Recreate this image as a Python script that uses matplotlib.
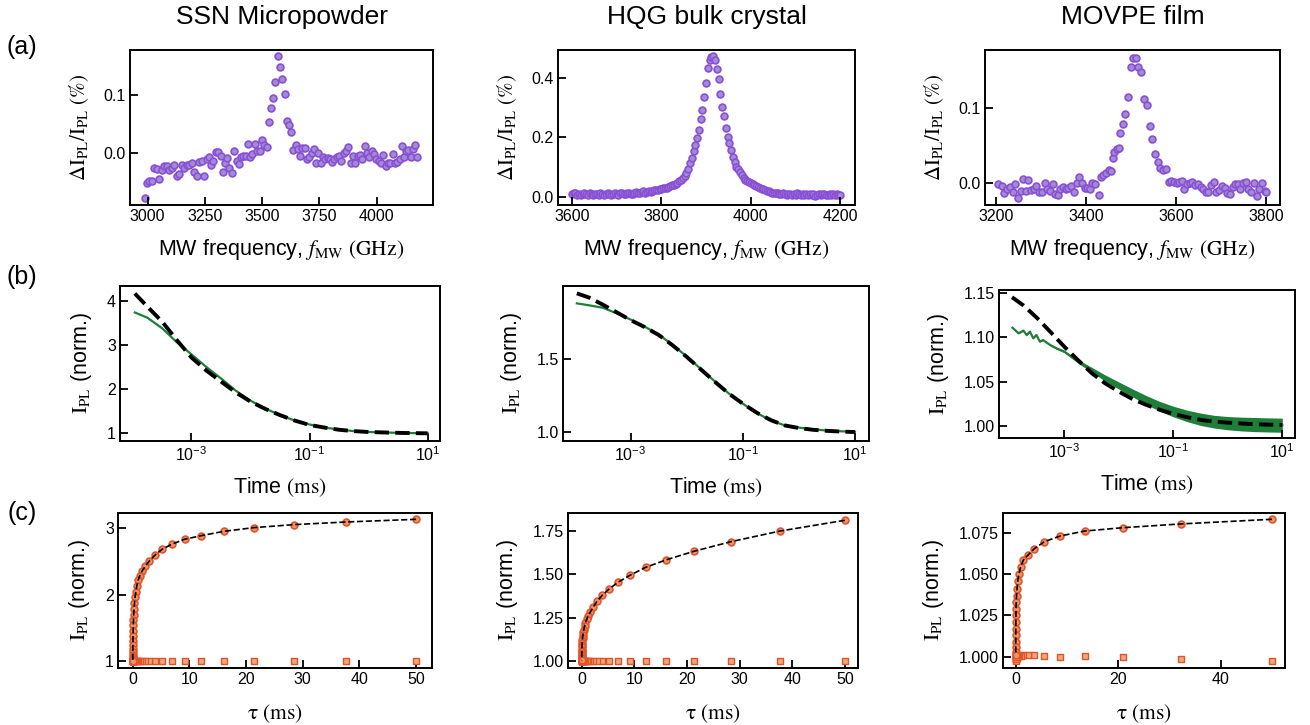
import numpy as np
import matplotlib
matplotlib.use('Agg')
import matplotlib.pyplot as plt

plt.rcParams['font.family'] = ['Liberation Sans', 'DejaVu Sans']
plt.rcParams['mathtext.fontset'] = 'stix'

W, H = 1310, 725

titles = ['SSN Micropowder', 'HQG bulk crystal', 'MOVPE film']

# (a) ODMR spectra
ssn_freq = [2988, 2996, 3006, 3017, 3028, 3039, 3051, 3061, 3073, 3083,
            3095, 3105, 3116, 3127, 3137, 3148, 3160, 3170, 3180, 3192,
            3204, 3214, 3226, 3236, 3247, 3258, 3268, 3277, 3287, 3298,
            3309, 3319, 3327, 3338, 3348, 3357, 3367, 3377, 3389, 3399,
            3408, 3418, 3428, 3438, 3447, 3457, 3469, 3479, 3489, 3499,
            3508, 3520, 3528, 3539, 3549, 3557, 3568, 3578, 3588, 3598,
            3607, 3617, 3627, 3636, 3646, 3656, 3665, 3675, 3686, 3696,
            3706, 3716, 3726, 3735, 3745, 3755, 3766, 3776, 3786, 3796,
            3806, 3815, 3825, 3835, 3846, 3856, 3866, 3876, 3886, 3897,
            3907, 3917, 3927, 3937, 3948, 3958, 3968, 3978, 3988, 3999,
            4009, 4019, 4029, 4039, 4049, 4060, 4070, 4080, 4090, 4100,
            4111, 4119, 4128, 4138, 4148, 4157, 4166, 4175]
ssn_odmr = [-0.078, -0.051, -0.049, -0.048, -0.026, -0.027, -0.045, -0.030, -0.023, -0.022,
            -0.029, -0.026, -0.021, -0.039, -0.037, -0.021, -0.026, -0.021, -0.020, -0.018,
            -0.033, -0.039, -0.016, -0.014, -0.039, -0.010, -0.006, -0.020, -0.013, 0.002,
            0.001, -0.005, -0.033, -0.017, -0.009, -0.026, -0.034, 0.003, -0.014, -0.019,
            -0.006, -0.005, -0.005, 0.016, -0.006, -0.001, 0.016, 0.003, 0.003, 0.023,
            0.014, 0.011, 0.053, 0.078, 0.095, 0.122, 0.167, 0.149, 0.128, 0.102,
            0.056, 0.049, 0.036, 0.006, 0.014, 0.007, -0.005, 0.009, 0.009, -0.010,
            -0.006, 0.000, 0.007, -0.018, 0.000, -0.018, -0.006, -0.011, -0.009, -0.010,
            -0.016, -0.010, -0.006, -0.005, -0.014, 0.000, 0.003, 0.011, -0.017, -0.005,
            -0.017, -0.005, -0.003, -0.010, 0.013, 0.000, -0.006, 0.003, -0.001, -0.010,
            -0.013, -0.017, -0.003, -0.022, -0.018, -0.017, -0.001, -0.017, -0.016, -0.011,
            0.013, -0.006, 0.003, 0.006, -0.007, 0.007, 0.014, -0.006]

hqg_start, hqg_step = 3600, 4
hqg_odmr = [0.008, 0.011, 0.012, 0.007, 0.009, 0.005, 0.010, 0.013, 0.008, 0.006,
            0.011, 0.009, 0.004, 0.008, 0.010, 0.007, 0.012, 0.009, 0.005, 0.009,
            0.011, 0.008, 0.006, 0.010, 0.012, 0.008, 0.007, 0.011, 0.013, 0.009,
            0.008, 0.012, 0.014, 0.010, 0.009, 0.013, 0.016, 0.012, 0.011, 0.015,
            0.018, 0.014, 0.016, 0.020, 0.017, 0.019, 0.023, 0.021, 0.022, 0.026,
            0.025, 0.028, 0.030, 0.029, 0.033, 0.035, 0.038, 0.040, 0.043, 0.047,
            0.051, 0.056, 0.063, 0.071, 0.081, 0.094, 0.112, 0.130, 0.155, 0.172,
            0.196, 0.225, 0.262, 0.290, 0.335, 0.382, 0.432, 0.460, 0.470, 0.472,
            0.458, 0.428, 0.395, 0.345, 0.300, 0.270, 0.230, 0.202, 0.180, 0.157,
            0.135, 0.115, 0.100, 0.094, 0.082, 0.073, 0.062, 0.056, 0.052, 0.048,
            0.045, 0.041, 0.038, 0.035, 0.032, 0.029, 0.027, 0.025, 0.021, 0.020,
            0.018, 0.016, 0.013, 0.014, 0.011, 0.012, 0.009, 0.008, 0.011, 0.009,
            0.006, 0.008, 0.010, 0.007, 0.009, 0.005, 0.012, 0.008, 0.006, 0.010,
            0.007, 0.009, 0.004, 0.008, 0.006, 0.010, 0.003, 0.007, 0.009, 0.005,
            0.008, 0.010, 0.004, 0.007, 0.009, 0.005, 0.008, 0.006, 0.009, 0.004, 0.007]
hqg_freq = hqg_start + hqg_step * np.arange(len(hqg_odmr))

movpe_freq = [3205, 3213, 3218, 3225, 3231, 3237, 3243, 3249, 3255, 3261,
              3267, 3272, 3278, 3284, 3290, 3296, 3302, 3308, 3314, 3320,
              3326, 3332, 3337, 3343, 3349, 3355, 3361, 3367, 3373, 3379,
              3385, 3391, 3397, 3402, 3408, 3414, 3420, 3428, 3433, 3438,
              3444, 3450, 3455, 3459, 3463, 3468, 3472, 3476, 3482, 3487,
              3493, 3499, 3504, 3510, 3516, 3521, 3528, 3535, 3541, 3547,
              3553, 3559, 3565, 3571, 3577, 3583, 3589, 3595, 3601, 3606,
              3612, 3618, 3624, 3630, 3636, 3642, 3648, 3654, 3660, 3666,
              3671, 3677, 3683, 3689, 3695, 3701, 3707, 3713, 3719, 3725,
              3731, 3737, 3742, 3748, 3754, 3760, 3766, 3772, 3778, 3784,
              3790, 3796, 3800]
movpe_odmr = [-0.001, -0.003, -0.013, -0.007, -0.005, -0.012, -0.001, -0.020, -0.010, 0.006,
              -0.010, 0.004, -0.009, -0.008, -0.003, -0.011, -0.011, 0.001, -0.008, -0.010,
              -0.001, -0.014, -0.016, -0.008, -0.005, -0.007, -0.006, -0.004, -0.012, 0.000,
              0.008, 0.000, -0.006, -0.006, -0.007, 0.000, -0.001, -0.015, 0.008, 0.011,
              0.014, 0.017, 0.016, 0.033, 0.041, 0.045, 0.046, 0.067, 0.078, 0.091,
              0.114, 0.153, 0.165, 0.166, 0.153, 0.147, 0.111, 0.104, 0.076, 0.059,
              0.039, 0.028, 0.020, 0.017, 0.019, 0.002, 0.003, 0.002, 0.000, 0.002,
              0.003, -0.007, -0.001, 0.001, 0.002, -0.002, -0.001, -0.005, -0.007, -0.011,
              -0.012, -0.002, 0.002, -0.012, -0.009, -0.004, -0.006, -0.013, -0.014, -0.005,
              -0.001, -0.001, -0.007, 0.001, 0.002, -0.007, -0.012, 0.000, -0.017, -0.007,
              0.000, -0.010, -0.012]

# (b) PL decay (time in ms)
t_ms = [1.1e-4, 1.8e-4, 3.2e-4, 5.6e-4, 1e-3, 1.8e-3, 3.2e-3, 5.6e-3, 0.01, 0.018, 0.032,
        0.056, 0.1, 0.18, 0.32, 0.56, 1.0, 1.8, 3.2, 5.6, 10.0]
ssn_decay = [3.74, 3.62, 3.38, 3.07, 2.79, 2.50, 2.24, 1.97, 1.74, 1.56, 1.41,
             1.29, 1.20, 1.13, 1.085, 1.05, 1.03, 1.02, 1.01, 1.005, 1.0]
ssn_decay_fit = [4.17, 3.87, 3.53, 3.12, 2.72, 2.42, 2.17, 1.93, 1.72, 1.55, 1.41,
                 1.29, 1.19, 1.13, 1.08, 1.05, 1.03, 1.02, 1.01, 1.005, 1.0]
hqg_decay = [1.875, 1.862, 1.845, 1.808, 1.765, 1.716, 1.662, 1.593, 1.514, 1.428, 1.343,
             1.263, 1.193, 1.128, 1.078, 1.045, 1.030, 1.018, 1.010, 1.005, 1.002]
hqg_decay_fit = [1.943, 1.915, 1.866, 1.815, 1.761, 1.713, 1.659, 1.590, 1.511, 1.425, 1.341,
                 1.262, 1.193, 1.130, 1.080, 1.045, 1.027, 1.015, 1.008, 1.003, 1.0]
movpe_decay_fit = [1.1455, 1.136, 1.1217, 1.106, 1.0895, 1.074, 1.0594, 1.048, 1.0386, 1.030, 1.0235,
                   1.018, 1.0133, 1.0095, 1.0065, 1.0045, 1.0034, 1.0024, 1.0016, 1.0011, 1.0008]
t_movpe = [1.12e-4, 1.45e-4, 1.78e-4, 2.04e-4, 2.34e-4, 2.69e-4, 3.09e-4, 3.55e-4, 4.07e-4,
           5.5e-4, 7.2e-4, 1e-3, 1.8e-3, 3.2e-3, 5.6e-3, 0.01, 0.018, 0.032, 0.056, 0.1,
           0.18, 0.32, 0.56, 1.0, 1.8, 3.2, 5.6, 10.0]
movpe_decay = [1.111, 1.1046, 1.1077, 1.1027, 1.1065, 1.099, 1.1027, 1.0952, 1.097,
               1.0914, 1.0876, 1.0839, 1.0726, 1.0632, 1.054, 1.0455, 1.037, 1.029, 1.022, 1.0160,
               1.0110, 1.0072, 1.0045, 1.0028, 1.0018, 1.0012, 1.0008, 1.0005]
movpe_noise = [0.0005, 0.0005, 0.0005, 0.0005, 0.0005, 0.0005, 0.0005, 0.0006, 0.0006,
               0.0008, 0.001, 0.0012, 0.002, 0.0028, 0.0035, 0.004, 0.0045, 0.005, 0.0055, 0.006,
               0.0065, 0.007, 0.0072, 0.0075, 0.0078, 0.008, 0.008, 0.008]

# (c) pulse-delay recovery
tau_a = [50, 37.66, 28.37, 21.37, 16.10, 12.13, 9.14, 6.88, 5.18, 3.90, 2.94, 2.22, 1.67,
         1.26, 0.948, 0.714, 0.538, 0.405, 0.305, 0.230, 0.173, 0.130, 0.098, 0.074, 0.056,
         0.042, 0.032, 0.024, 0.018, 0.0135, 0.0102, 0.0077, 0.0058, 0.0044]
ssn_rec = [3.135, 3.095, 3.055, 3.01, 2.955, 2.89, 2.835, 2.76, 2.685, 2.595, 2.51, 2.43, 2.36,
           2.29, 2.22, 2.13, 2.04, 1.96, 1.87, 1.79, 1.70, 1.62, 1.54, 1.46, 1.38,
           1.31, 1.25, 1.19, 1.14, 1.10, 1.07, 1.04, 1.02, 1.01]
ssn_ref = [1.0] * 34
hqg_rec = [1.81, 1.748, 1.687, 1.632, 1.583, 1.539, 1.493, 1.453, 1.414, 1.378, 1.345, 1.312, 1.284,
           1.262, 1.24, 1.22, 1.20, 1.18, 1.165, 1.15, 1.135, 1.12, 1.105, 1.09, 1.078,
           1.066, 1.055, 1.045, 1.036, 1.028, 1.02, 1.013, 1.008, 1.004]
hqg_ref = [1.0] * 34
tau_b = [50, 32.3, 20.85, 13.46, 8.69, 5.61, 3.62, 2.34, 1.51, 0.975, 0.63, 0.406, 0.262,
         0.169, 0.109, 0.0705, 0.0455, 0.0294, 0.019, 0.0123, 0.0079, 0.0051, 0.0033, 0.0021]
movpe_rec = [1.0831, 1.0803, 1.078, 1.076, 1.073, 1.0696, 1.0653, 1.0613, 1.0585, 1.0545, 1.050,
             1.046, 1.041, 1.037, 1.033, 1.029, 1.025, 1.021, 1.017, 1.013, 1.009, 1.006, 1.003, 1.001]
movpe_ref = [0.9974, 0.9984, 0.9996, 1.0004, 1.0, 1.0006, 1.0008, 1.0008, 1.0008, 1.0006, 1.0004,
             1.0002, 1.0, 0.9995, 0.999, 0.998, 0.9985, 0.9975, 1.001, 1.0025, 0.999, 1.0005, 0.9985, 1.0]

purple_face, purple_edge = '#a08cd2', '#8a4fd6'
green = '#1d7f38'
orange_face, orange_edge = '#ee9468', '#e0542a'
square_face = '#eaa97c'


def add_ax(fig, left, top, right, bottom):
    return fig.add_axes([left / W, 1 - bottom / H, (right - left) / W, (bottom - top) / H])


def style(ax):
    ax.tick_params(direction='in', length=6, width=1.3, labelsize=11.5, pad=3,
                   top=False, right=False)
    for s in ax.spines.values():
        s.set_linewidth(1.4)


fig = plt.figure(figsize=(W / 100, H / 100), dpi=100)

# ---- row (a)
ax_a = [add_ax(fig, 130, 50, 433, 205), add_ax(fig, 558, 50, 855, 205), add_ax(fig, 985, 50, 1280, 205)]
odmr = [(ssn_freq, ssn_odmr), (hqg_freq, hqg_odmr), (movpe_freq, movpe_odmr)]
for ax, (f, v), title in zip(ax_a, odmr, titles):
    ax.scatter(f, v, s=24, facecolor=purple_face, edgecolor=purple_edge, linewidth=1.2)
    ax.set_title(title, fontsize=19, pad=19)
    ax.set_xlabel(r'MW frequency, $f_{\rm MW}\ \rm (GHz)$', fontsize=15.5, labelpad=9)
    ax.set_ylabel(r'$\Delta \rm I_{PL}/I_{PL}\ (\%)$', fontsize=15, labelpad=9)
    style(ax)
ax_a[0].set_xlim(2923, 4246); ax_a[0].set_ylim(-0.0897, 0.178)
ax_a[0].set_xticks([3000, 3250, 3500, 3750, 4000]); ax_a[0].set_yticks([0.0, 0.1])
ax_a[1].set_xlim(3569, 4233); ax_a[1].set_ylim(-0.028, 0.493)
ax_a[1].set_xticks([3600, 3800, 4000, 4200]); ax_a[1].set_yticks([0.0, 0.2, 0.4])
ax_a[2].set_xlim(3176, 3830); ax_a[2].set_ylim(-0.0286, 0.176)
ax_a[2].set_xticks([3200, 3400, 3600, 3800]); ax_a[2].set_yticks([0.0, 0.1])

# ---- row (b)
ax_b = [add_ax(fig, 120, 286, 440, 441), add_ax(fig, 563, 286, 869, 441), add_ax(fig, 999, 290, 1295, 438)]
ax_b[0].plot(t_ms, ssn_decay, color=green, lw=1.6)
ax_b[0].plot(t_ms, ssn_decay_fit, 'k--', lw=2.8)
ax_b[1].plot(t_ms, hqg_decay, color=green, lw=1.6)
ax_b[1].plot(t_ms, hqg_decay_fit, 'k--', lw=2.8)
lo = np.array(movpe_decay) - np.array(movpe_noise)
hi = np.array(movpe_decay) + np.array(movpe_noise)
ax_b[2].fill_between(t_movpe, lo, hi, color=green, lw=0)
ax_b[2].plot(t_movpe, movpe_decay, color=green, lw=1.6)
ax_b[2].plot(t_ms, movpe_decay_fit, 'k--', lw=2.8)
for ax in ax_b:
    ax.set_xscale('log')
    ax.set_xticks([1e-3, 1e-1, 1e1])
    ax.xaxis.set_minor_locator(matplotlib.ticker.NullLocator())
    ax.set_xlabel(r'Time $\rm (ms)$', fontsize=15.5, labelpad=8)
    ax.set_ylabel(r'$\rm I_{PL}$ (norm.)', fontsize=15.5, labelpad=9)
    style(ax)
    for lab in ax.get_xticklabels():
        lab.set_math_fontfamily('dejavusans')
ax_b[0].set_xlim(10 ** -4.21, 10 ** 1.21); ax_b[0].set_ylim(0.826, 4.34)
ax_b[0].set_yticks([1, 2, 3, 4])
ax_b[1].set_xlim(10 ** -4.205, 10 ** 1.25); ax_b[1].set_ylim(0.939, 1.993)
ax_b[1].set_yticks([1.0, 1.5])
ax_b[2].set_xlim(10 ** -4.198, 10 ** 1.233); ax_b[2].set_ylim(0.986, 1.1537)
ax_b[2].set_yticks([1.00, 1.05, 1.10, 1.15])

# ---- row (c)
ax_c = [add_ax(fig, 118, 513, 432, 668), add_ax(fig, 568, 513, 858, 668), add_ax(fig, 1003, 513, 1285, 668)]
rec = [(tau_a, ssn_rec, ssn_ref), (tau_a, hqg_rec, hqg_ref), (tau_b, movpe_rec, movpe_ref)]
for ax, (tau, on, off) in zip(ax_c, rec):
    ax.scatter(tau, off, s=18, marker='s', facecolor=square_face, edgecolor=orange_edge, linewidth=1.0, zorder=2)
    ax.scatter(tau, on, s=24, facecolor=orange_face, edgecolor=orange_edge, linewidth=1.2, zorder=2)
    ax.plot(tau, on, 'k--', lw=1.2, zorder=3)
    ax.set_xlabel(r'$\mathrm{τ\ (ms)}$', fontsize=15.5, labelpad=11)
    ax.set_ylabel(r'$\rm I_{PL}$ (norm.)', fontsize=15.5, labelpad=9)
    style(ax)
ax_c[0].set_xlim(-2.6, 52.8); ax_c[0].set_ylim(0.9, 3.23)
ax_c[0].set_xticks([0, 10, 20, 30, 40, 50]); ax_c[0].set_yticks([1, 2, 3])
ax_c[1].set_xlim(-2.6, 52.5); ax_c[1].set_ylim(0.96, 1.852)
ax_c[1].set_xticks([0, 10, 20, 30, 40, 50]); ax_c[1].set_yticks([1.00, 1.25, 1.50, 1.75])
ax_c[2].set_xlim(-2.48, 52.55); ax_c[2].set_ylim(0.9932, 1.0869)
ax_c[2].set_xticks([0, 20, 40]); ax_c[2].set_yticks([1.000, 1.025, 1.050, 1.075])
ax_c[1].yaxis.set_major_formatter(matplotlib.ticker.FormatStrFormatter('%.2f'))
ax_c[2].yaxis.set_major_formatter(matplotlib.ticker.FormatStrFormatter('%.3f'))
ax_b[2].yaxis.set_major_formatter(matplotlib.ticker.FormatStrFormatter('%.2f'))
ax_b[1].yaxis.set_major_formatter(matplotlib.ticker.FormatStrFormatter('%.1f'))

# panel letters
for letter, y in [('(a)', 47), ('(b)', 277), ('(c)', 513)]:
    fig.text(22 / W, 1 - y / H, letter, fontsize=18, ha='center', va='center')

fig.savefig('out.png', dpi=100)
